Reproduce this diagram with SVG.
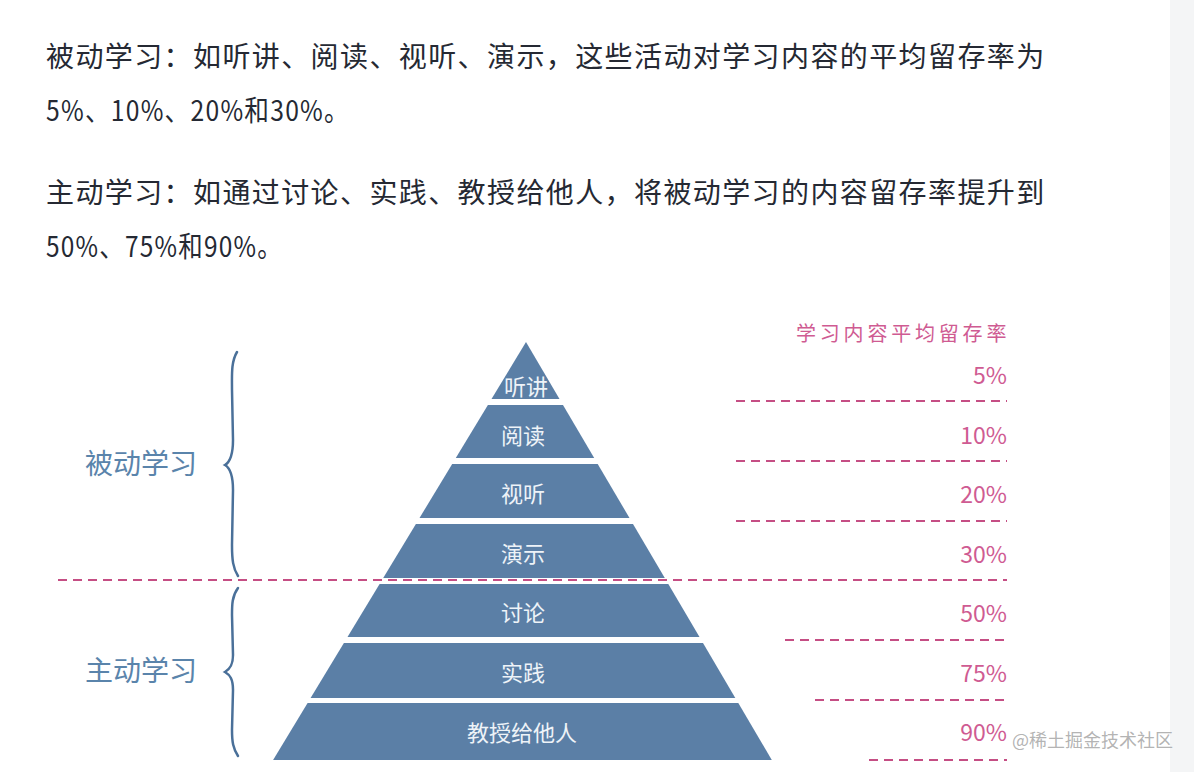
<svg xmlns="http://www.w3.org/2000/svg" width="1194" height="772" viewBox="0 0 1194 772">
<style>
.body{font-family:"Noto Sans CJK SC","Noto Sans",sans-serif;font-size:28px;fill:#252933;letter-spacing:1.4px}
.layer{fill:#5b7fa6}
.lt{font-family:"Noto Sans CJK SC",sans-serif;font-size:22px;fill:#eef3f8;text-anchor:middle}
.side{font-family:"Noto Sans CJK SC",sans-serif;font-size:28px;fill:#5a84ab}
.pct{font-family:"Noto Sans CJK SC","Noto Sans",sans-serif;font-size:23px;fill:#cf5b92;text-anchor:end}
.hdr{font-family:"Noto Sans CJK SC",sans-serif;font-size:20px;fill:#cf5b92;letter-spacing:3.8px}
.dash{stroke:#c54e84;stroke-width:2;stroke-dasharray:9 6;fill:none}
.brace{stroke:#4a7099;stroke-width:2.5;fill:none;stroke-linecap:round}
.wm{font-family:"Noto Sans CJK SC",sans-serif;font-size:18px;fill:#a0a0a0;fill-opacity:0.8}
</style>
<rect x="0" y="0" width="1194" height="772" fill="#ffffff"/>
<rect x="1170" y="0" width="24" height="772" fill="#f4f5f6"/>
<g id="intro">
<text class="body" x="46" y="67">被动学习：如听讲、阅读、视听、演示，这些活动对学习内容的平均留存率为</text>
<text class="body" x="46" y="121" letter-spacing="0" textLength="304" lengthAdjust="spacingAndGlyphs">5%、10%、20%和30%。</text>
<text class="body" x="46" y="203">主动学习：如通过讨论、实践、教授给他人，将被动学习的内容留存率提升到</text>
<text class="body" x="46" y="257" letter-spacing="0" textLength="237" lengthAdjust="spacingAndGlyphs">50%、75%和90%。</text>
</g>
<g id="layer-1"><polygon class="layer" points="526,342 559.5,399 491.5,399"/><text class="lt" x="526" y="395">听讲</text></g>
<g id="layer-2"><polygon class="layer" points="487.9,405 563,405 594.2,458 455.8,458"/><text class="lt" x="523" y="444">阅读</text></g>
<g id="layer-3"><polygon class="layer" points="452.2,464 597.7,464 629.5,518 419.5,518"/><text class="lt" x="523" y="502">视听</text></g>
<g id="layer-4"><polygon class="layer" points="415.9,524 633,524 664.8,578 383.2,578"/><text class="lt" x="523" y="562">演示</text></g>
<g id="layer-5"><polygon class="layer" points="379.6,584 668.3,584 699.5,637 347.5,637"/><text class="lt" x="523" y="621">讨论</text></g>
<g id="layer-6"><polygon class="layer" points="343.9,643 703,643 735.3,698 310.6,698"/><text class="lt" x="523" y="681">实践</text></g>
<g id="layer-7"><polygon class="layer" points="307.6,703 738.3,703 771.8,760 273.1,760"/><text class="lt" x="522" y="741">教授给他人</text></g>
<g id="passive">
<path class="brace" d="M237,352 C231,362 232,375 232,390 L233,440 C233,455 230,462 225,465 C230,468 233,475 233,490 L232,545 C232,560 233,568 238,576"/>
<text class="side" x="85" y="474">被动学习</text>
</g>
<g id="active">
<path class="brace" d="M238,588 C232,596 232,605 232,615 L233,655 C233,665 230,669 225,672 C230,675 233,679 233,690 L232,730 C232,742 233,748 238,756"/>
<text class="side" x="85" y="681">主动学习</text>
</g>
<g id="connectors">
<line class="dash" x1="736" y1="401" x2="1007" y2="401"/>
<line class="dash" x1="736" y1="461" x2="1007" y2="461"/>
<line class="dash" x1="736" y1="521" x2="1007" y2="521"/>
<line class="dash" x1="58" y1="580" x2="1007" y2="580"/>
<line class="dash" x1="785" y1="640" x2="1007" y2="640"/>
<line class="dash" x1="815" y1="700" x2="1007" y2="700"/>
<line class="dash" x1="869" y1="760" x2="1007" y2="760"/>
</g>
<g id="retention">
<text class="hdr" x="796" y="341">学习内容平均留存率</text>
<text class="pct" x="1007" y="384">5%</text>
<text class="pct" x="1007" y="444">10%</text>
<text class="pct" x="1007" y="503">20%</text>
<text class="pct" x="1007" y="563">30%</text>
<text class="pct" x="1007" y="622">50%</text>
<text class="pct" x="1007" y="682">75%</text>
<text class="pct" x="1007" y="741">90%</text>
</g>
<text class="wm" x="1012" y="747">@稀土掘金技术社区</text>
</svg>
